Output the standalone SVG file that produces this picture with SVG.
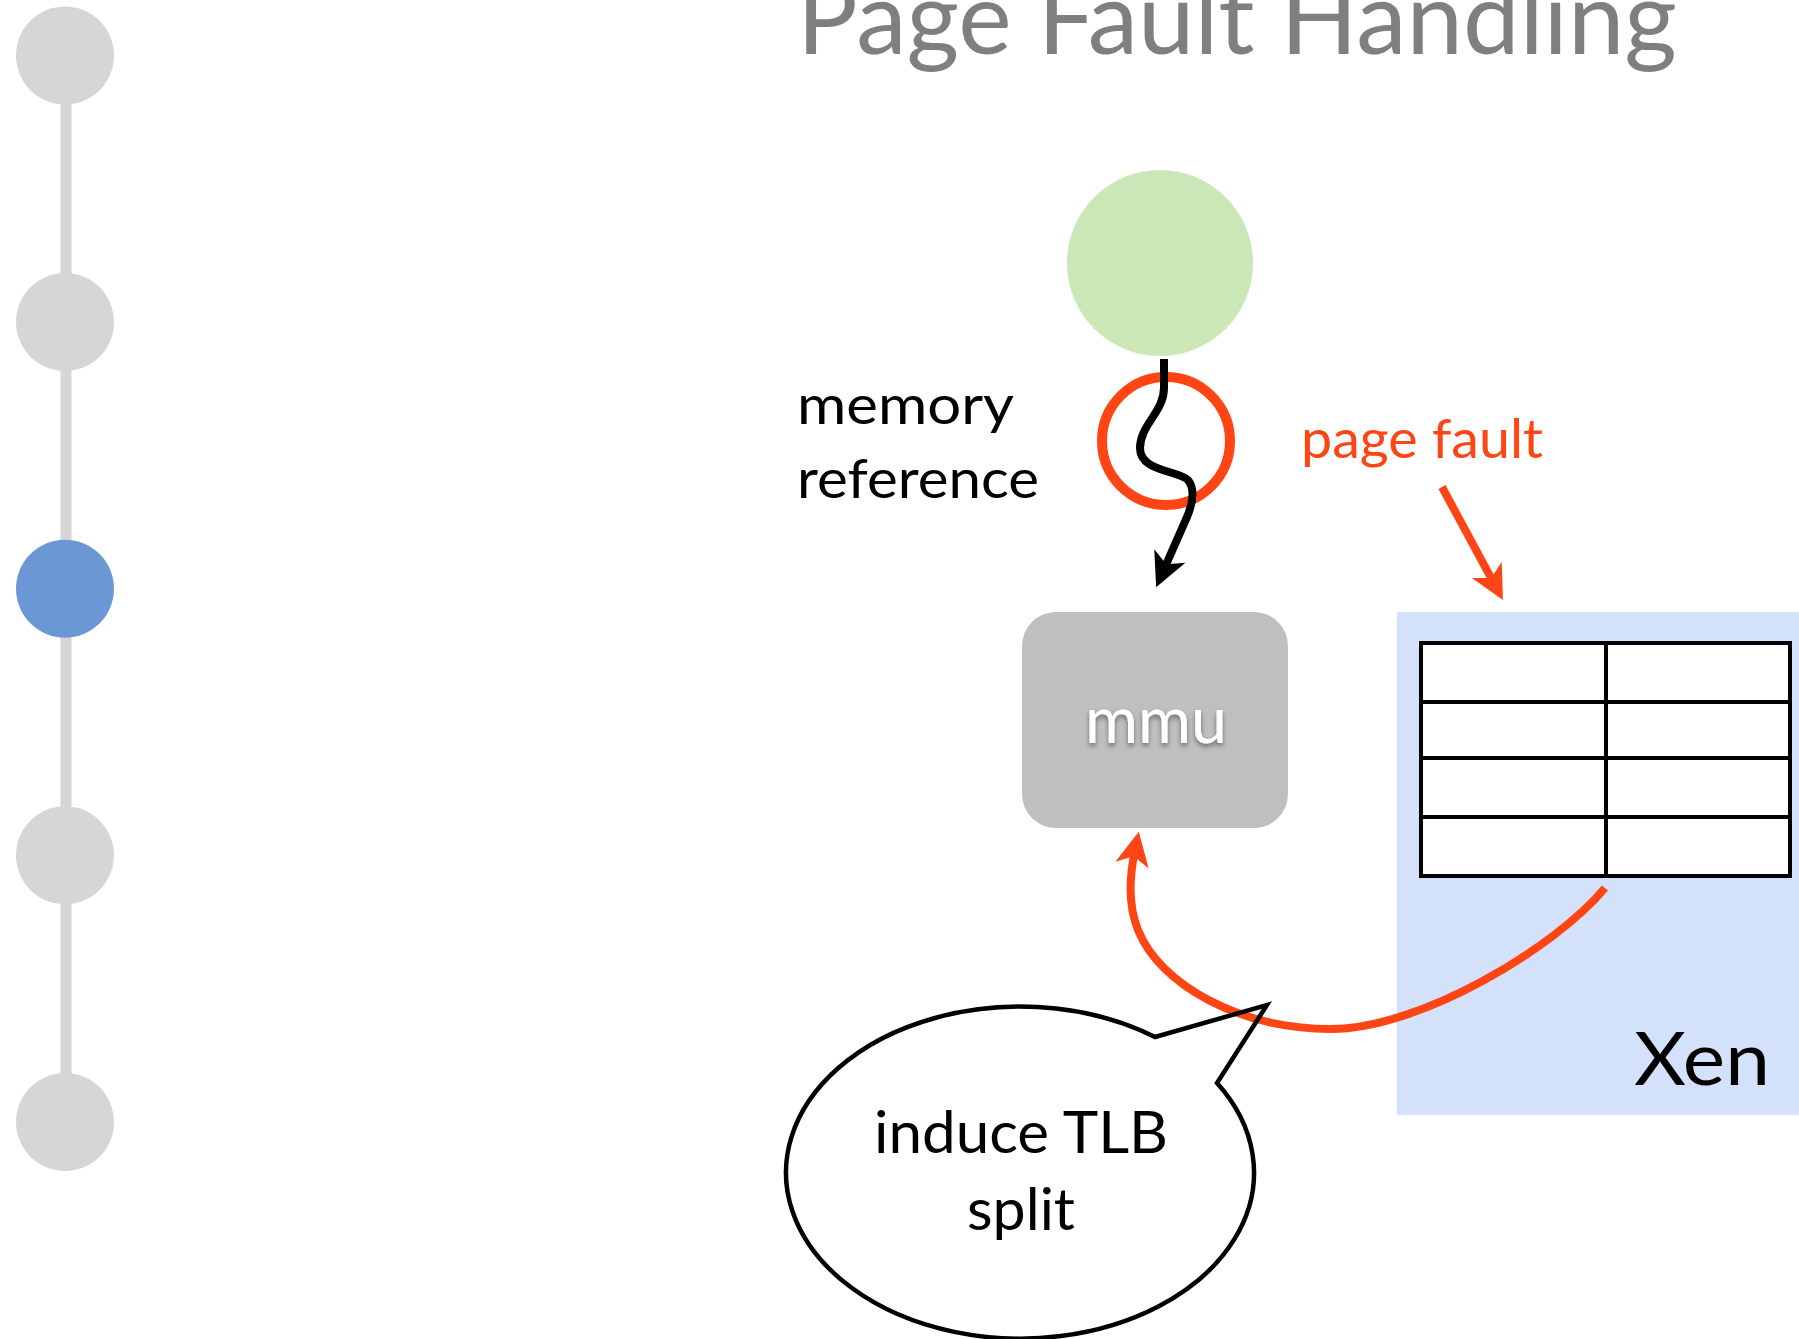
<svg xmlns="http://www.w3.org/2000/svg" width="1799" height="1339" viewBox="0 0 1799 1339">
  <style>
    .lbl { font-family: Lato, "Open Sans", "Liberation Sans", sans-serif; }
    .dark { fill: #000000; }
    .red { fill: #ff4513; }
    .tl { fill: #d6d6d6; }
    .conn { fill: none; stroke-width: 8; stroke-linecap: butt; stroke-linejoin: round; }
    .cred { stroke: #ff4513; }
    .cblk { stroke: #000000; }
    .grid { stroke: #000000; stroke-width: 4; fill: none; }
    .cell { stroke: #000000; stroke-width: 4; fill: #ffffff; }
  </style>
  <defs>
    <marker id="arrBlack" markerUnits="userSpaceOnUse" viewBox="-16 -20 40 40" markerWidth="40" markerHeight="40" refX="0" refY="0" orient="auto">
      <path d="M22,0 L-12,-17 L-3,0 L-12,17 Z" fill="#000000"/>
    </marker>
    <marker id="arrRed" markerUnits="userSpaceOnUse" viewBox="-16 -20 40 40" markerWidth="40" markerHeight="40" refX="0" refY="0" orient="auto">
      <path d="M22,0 L-12,-17 L-3,0 L-12,17 Z" fill="#ff4513"/>
    </marker>
    <filter id="shadow" x="-20%" y="-30%" width="140%" height="160%">
      <feDropShadow dx="0" dy="3" stdDeviation="2.5" flood-color="#000000" flood-opacity="0.45"/>
    </filter>
  </defs>

  <rect width="1799" height="1339" fill="#ffffff"/>

  <g id="timeline">
    <rect x="60.5" y="56" width="11" height="1066" class="tl"/>
    <circle cx="65" cy="55.5" r="49" class="tl"/>
    <circle cx="65" cy="322" r="49" class="tl"/>
    <circle cx="65" cy="588.7" r="49" fill="#6b98d5"/>
    <circle cx="65" cy="855.3" r="49" class="tl"/>
    <circle cx="65" cy="1122" r="49" class="tl"/>
  </g>

  <text id="title" class="lbl" x="797" y="54" font-size="100" fill="#7f7f7f" textLength="880" lengthAdjust="spacingAndGlyphs">Page Fault Handling</text>

  <g id="xen">
    <rect x="1397" y="612" width="402" height="503" fill="#d4e1fa"/>
    <rect x="1421" y="643" width="369" height="233" class="cell"/>
    <line x1="1606" y1="643" x2="1606" y2="876" class="grid"/>
    <line x1="1421" y1="702" x2="1790" y2="702" class="grid"/>
    <line x1="1421" y1="758" x2="1790" y2="758" class="grid"/>
    <line x1="1421" y1="817" x2="1790" y2="817" class="grid"/>
    <text class="lbl dark" x="1634" y="1085" font-size="74" textLength="136" lengthAdjust="spacingAndGlyphs">Xen</text>
  </g>

  <g id="mmu">
    <rect x="1022" y="612" width="266" height="216" rx="34" ry="34" fill="#bfbfbf"/>
    <text class="lbl" x="1085" y="743" font-size="64" fill="#ffffff" filter="url(#shadow)" textLength="142" lengthAdjust="spacingAndGlyphs">mmu</text>
  </g>

  <g id="process">
    <circle cx="1160" cy="263" r="93" fill="#cce7b7"/>
  </g>

  <g id="fault-marker">
    <circle cx="1166" cy="441" r="64" fill="none" stroke="#ff4513" stroke-width="10"/>
  </g>

  <g id="label-memory">
    <text class="lbl dark" x="797" y="424" font-size="54" textLength="217" lengthAdjust="spacingAndGlyphs">memory</text>
    <text class="lbl dark" x="797" y="498" font-size="54" textLength="242" lengthAdjust="spacingAndGlyphs">reference</text>
  </g>

  <g id="label-pagefault">
    <text class="lbl red" x="1301" y="458" font-size="54" textLength="242" lengthAdjust="spacingAndGlyphs">page fault</text>
  </g>

  <g id="connectors">
    <path class="conn cblk" d="M1164,359 L1164,388 C1164,412 1140,425 1140,448 C1140,472 1178,470 1188,480 C1196,490 1192,505 1187,517 L1165,567" marker-end="url(#arrBlack)"/>
    <path class="conn cred" d="M1442,487 L1492.5,580.6" marker-end="url(#arrRed)"/>
    <path class="conn cred" d="M1605,888 C1555,948 1420,1029 1331,1029 C1240,1029 1160,985 1138,930 C1128,905 1130,875 1134.4,853.3" marker-end="url(#arrRed)"/>
  </g>

  <g id="bubble">
    <path d="M1155,1037 L1267,1005 L1217,1083 A234,166 0 1,1 1155,1037 Z" fill="none" stroke="#000000" stroke-width="4.5" stroke-linejoin="miter"/>
    <text class="lbl dark" x="1021" y="1153" font-size="58" text-anchor="middle" textLength="294" lengthAdjust="spacingAndGlyphs">induce TLB</text>
    <text class="lbl dark" x="1021" y="1230" font-size="58" text-anchor="middle" textLength="108" lengthAdjust="spacingAndGlyphs">split</text>
  </g>
</svg>
